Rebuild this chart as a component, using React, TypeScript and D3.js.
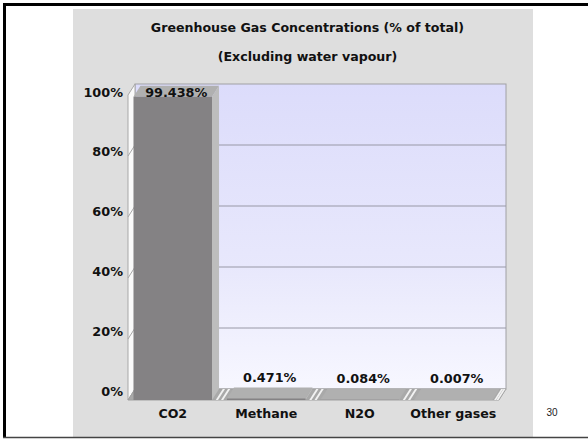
import React from "react";
import * as d3 from "d3";

const categories = ["CO2", "Methane", "N2O", "Other gases"];
const values = [99.438, 0.471, 0.084, 0.007];
const valueLabels = ["99.438%", "0.471%", "0.084%", "0.007%"];
const yTicks = [0, 20, 40, 60, 80, 100];
const titleLines = ["Greenhouse Gas Concentrations (% of total)", "(Excluding water vapour)"];
const pageNumber = "30";

const W = 588;
const H = 440;
const DX = 7;
const DY = -11;
const FONT = "'DejaVu Sans', sans-serif";

export default function App() {
  const x = d3.scaleBand<string>().domain(categories).range([126, 500]).paddingInner(0.16).paddingOuter(0.08);
  const y = d3.scaleLinear().domain([0, 100]).range([400, 95]);
  const yLabel = d3.scaleLinear().domain([0, 100]).range([391, 92]);
  const bw = x.bandwidth();
  const fx0 = 128, fx1 = 499;
  const y0 = y(0), y100 = y(100);
  const pts = (a: [number, number][]) => a.map((p) => p.join(",")).join(" ");

  const gaps: [number, number][] = [];
  categories.forEach((c, i) => {
    const end = (x(c) as number) + bw;
    const next = i < categories.length - 1 ? (x(categories[i + 1]) as number) : fx1;
    gaps.push([end, next]);
  });

  return (
    <svg width={W} height={H} style={{ position: "absolute", left: 0, top: 0, display: "block" }}>
      <defs>
        <linearGradient id="wall" x1="0" y1="0" x2="0" y2="1">
          <stop offset="0" stopColor="#dcdcfb" />
          <stop offset="0.6" stopColor="#e8e8fc" />
          <stop offset="1" stopColor="#f7f7ff" />
        </linearGradient>
      </defs>
      <rect x={0} y={0} width={W} height={H} fill="#ffffff" />
      <rect x={73} y={9} width={460} height={428} fill="#dedede" />
      <line x1={3} y1={4.5} x2={W} y2={4.5} stroke="#000" strokeWidth={3} />
      <line x1={4.5} y1={3} x2={4.5} y2={438} stroke="#000" strokeWidth={3} />
      <line x1={3} y1={437.5} x2={W} y2={437.5} stroke="#444" strokeWidth={1.5} />

      {titleLines.map((t, i) => (
        <text key={t} x={307.5} y={32 + i * 29} textAnchor="middle" fontFamily={FONT} fontWeight="bold" fontSize={12.6} fill="#111">
          {t}
        </text>
      ))}

      <rect x={fx0 + DX} y={y100 + DY} width={fx1 - fx0} height={y0 - y100} fill="url(#wall)" stroke="#a0a0a4" strokeWidth={1} />
      {yTicks.filter((t) => t > 0 && t < 100).map((t) => (
        <line key={t} x1={fx0 + DX} x2={fx1 + DX} y1={y(t) + DY} y2={y(t) + DY} stroke="#9898a6" strokeWidth={1} />
      ))}
      <polygon points={pts([[fx0, y0], [fx0, y100], [fx0 + DX, y100 + DY], [fx0 + DX, y0 + DY]])} fill="#fafafa" stroke="#a8a8a8" strokeWidth={1} />
      {yTicks.filter((t) => t > 0 && t < 100).map((t) => (
        <line key={"lw" + t} x1={fx0} x2={fx0 + DX} y1={y(t)} y2={y(t) + DY} stroke="#a8a8a8" strokeWidth={1} />
      ))}
      <polygon points={pts([[fx0, y0], [fx1, y0], [fx1 + DX, y0 + DY], [fx0 + DX, y0 + DY]])} fill="#a9a9a9" stroke="#a0a0a0" strokeWidth={1} />
      {gaps.map(([a, b], i) => {
        const w = b - a;
        return [0.25, 0.6].map((f, k) => {
          const s = a + w * f;
          const sw = Math.max(2, w * 0.15);
          return (
            <polygon key={i + "-" + k} points={pts([[s, y0], [s + sw, y0], [s + sw + DX, y0 + DY], [s + DX, y0 + DY]])} fill="#f2f2f2" />
          );
        });
      })}

      {categories.map((c, i) => {
        const bx = x(c) as number;
        const top = y(values[i]);
        return (
          <g key={c}>
            <polygon points={pts([[bx + bw, top], [bx + bw + DX, top + DY], [bx + bw + DX, y0 + DY], [bx + bw, y0]])} fill="#bdbdbd" />
            <polygon points={pts([[bx, top], [bx + DX, top + DY], [bx + bw + DX, top + DY], [bx + bw, top]])} fill="#b0b0b0" />
            <rect x={bx} y={top} width={bw} height={y0 - top} fill="#848284" />
          </g>
        );
      })}

      {categories.map((c, i) => {
        const cx = (x(c) as number) + bw / 2 + DX / 2;
        const ly = Math.max(y(values[i]) - 17, y100 + 2);
        return (
          <text key={"v" + c} x={cx} y={ly} textAnchor="middle" fontFamily={FONT} fontWeight="bold" fontSize={12.8} fill="#111">
            {valueLabels[i]}
          </text>
        );
      })}

      {yTicks.map((t) => (
        <text key={"y" + t} x={123} y={yLabel(t) + 4.5} textAnchor="end" fontFamily={FONT} fontWeight="bold" fontSize={12.8} fill="#111">
          {t + "%"}
        </text>
      ))}

      {categories.map((c) => (
        <text key={"c" + c} x={(x(c) as number) + bw / 2} y={417.5} textAnchor="middle" fontFamily={FONT} fontWeight="bold" fontSize={12.6} fill="#111">
          {c}
        </text>
      ))}

      <text x={552} y={416} textAnchor="middle" fontFamily="'Liberation Sans', Arial, sans-serif" fontSize={10} fill="#222">
        {pageNumber}
      </text>
    </svg>
  );
}
